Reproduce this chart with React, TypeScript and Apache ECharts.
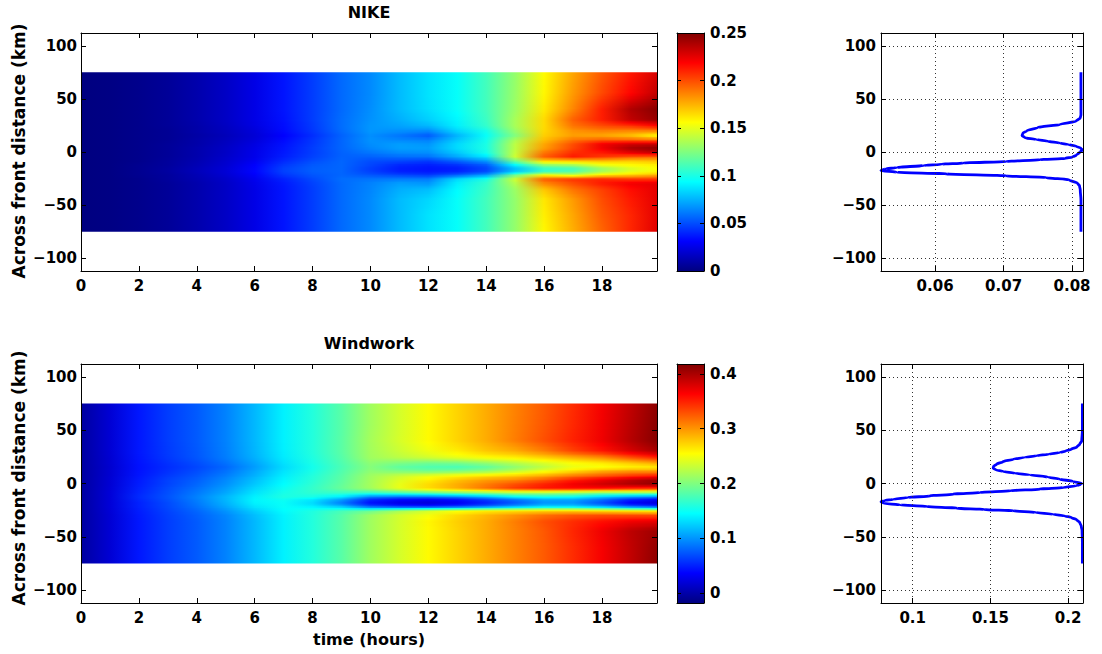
import React, { useEffect, useRef } from "react";
import * as echarts from "echarts";

// ---------- data ----------
const times = [0, 1, 2, 3, 4, 5, 6, 7, 8, 9, 10, 11, 12, 13, 14, 15, 16, 17, 18, 19, 19.9];
const distances = [75, 55, 40, 30, 24, 19, 15, 11, 7, 3, -1, -5, -9, -13, -16, -19, -22, -26, -30, -36, -45, -60, -75];

const nikeRows = [
  [0, 0.001, 0.003, 0.006, 0.011, 0.017, 0.025, 0.036, 0.046, 0.057, 0.065, 0.077, 0.087, 0.095, 0.110, 0.130, 0.157, 0.178, 0.197, 0.213, 0.228],
  [0, 0.001, 0.003, 0.006, 0.011, 0.017, 0.025, 0.036, 0.046, 0.057, 0.065, 0.077, 0.087, 0.095, 0.110, 0.131, 0.158, 0.181, 0.201, 0.218, 0.234],
  [0, 0.001, 0.003, 0.006, 0.011, 0.017, 0.025, 0.036, 0.046, 0.057, 0.066, 0.077, 0.086, 0.095, 0.110, 0.132, 0.161, 0.186, 0.212, 0.238, 0.248],
  [0, 0.001, 0.003, 0.006, 0.011, 0.017, 0.025, 0.035, 0.046, 0.058, 0.067, 0.074, 0.082, 0.092, 0.108, 0.135, 0.165, 0.195, 0.212, 0.234, 0.244],
  [0, 0.001, 0.003, 0.006, 0.010, 0.016, 0.024, 0.034, 0.045, 0.058, 0.068, 0.071, 0.076, 0.090, 0.106, 0.135, 0.165, 0.190, 0.200, 0.206, 0.216],
  [0, 0.001, 0.003, 0.005, 0.010, 0.015, 0.022, 0.033, 0.044, 0.057, 0.068, 0.066, 0.064, 0.083, 0.098, 0.130, 0.166, 0.182, 0.186, 0.184, 0.184],
  [0, 0.001, 0.003, 0.005, 0.009, 0.014, 0.021, 0.031, 0.042, 0.055, 0.066, 0.060, 0.053, 0.075, 0.095, 0.125, 0.168, 0.180, 0.178, 0.171, 0.156],
  [0, 0.001, 0.003, 0.005, 0.010, 0.015, 0.022, 0.033, 0.044, 0.056, 0.067, 0.064, 0.062, 0.080, 0.098, 0.135, 0.172, 0.190, 0.196, 0.194, 0.190],
  [0, 0.001, 0.003, 0.006, 0.010, 0.016, 0.024, 0.035, 0.045, 0.056, 0.066, 0.070, 0.068, 0.085, 0.100, 0.140, 0.178, 0.200, 0.222, 0.231, 0.234],
  [0, 0.001, 0.003, 0.006, 0.011, 0.017, 0.025, 0.036, 0.046, 0.056, 0.064, 0.070, 0.070, 0.085, 0.100, 0.140, 0.180, 0.202, 0.222, 0.240, 0.247],
  [0, 0.001, 0.003, 0.006, 0.011, 0.017, 0.026, 0.037, 0.046, 0.055, 0.060, 0.065, 0.066, 0.080, 0.098, 0.142, 0.190, 0.208, 0.213, 0.225, 0.234],
  [0, 0.001, 0.003, 0.006, 0.011, 0.018, 0.026, 0.038, 0.047, 0.055, 0.055, 0.058, 0.059, 0.072, 0.087, 0.144, 0.196, 0.213, 0.205, 0.197, 0.194],
  [0, 0.001, 0.003, 0.007, 0.012, 0.019, 0.028, 0.041, 0.050, 0.056, 0.050, 0.048, 0.045, 0.055, 0.068, 0.120, 0.165, 0.168, 0.171, 0.168, 0.171],
  [0, 0.001, 0.004, 0.007, 0.013, 0.020, 0.031, 0.045, 0.053, 0.056, 0.048, 0.040, 0.038, 0.042, 0.052, 0.090, 0.125, 0.131, 0.150, 0.156, 0.159],
  [0, 0.001, 0.004, 0.008, 0.014, 0.021, 0.032, 0.047, 0.054, 0.056, 0.046, 0.038, 0.036, 0.038, 0.048, 0.078, 0.106, 0.110, 0.131, 0.147, 0.156],
  [0, 0.001, 0.004, 0.008, 0.014, 0.021, 0.032, 0.047, 0.054, 0.056, 0.047, 0.039, 0.037, 0.040, 0.050, 0.080, 0.108, 0.115, 0.135, 0.150, 0.158],
  [0, 0.001, 0.004, 0.007, 0.013, 0.020, 0.030, 0.044, 0.052, 0.056, 0.052, 0.048, 0.045, 0.055, 0.070, 0.120, 0.156, 0.144, 0.162, 0.168, 0.175],
  [0, 0.001, 0.003, 0.007, 0.012, 0.018, 0.027, 0.039, 0.049, 0.058, 0.060, 0.062, 0.062, 0.085, 0.100, 0.144, 0.196, 0.206, 0.210, 0.206, 0.206],
  [0, 0.001, 0.003, 0.006, 0.011, 0.017, 0.026, 0.037, 0.047, 0.057, 0.063, 0.070, 0.068, 0.090, 0.106, 0.138, 0.185, 0.200, 0.213, 0.222, 0.225],
  [0, 0.001, 0.003, 0.006, 0.011, 0.017, 0.025, 0.036, 0.046, 0.057, 0.064, 0.074, 0.078, 0.093, 0.108, 0.132, 0.170, 0.190, 0.203, 0.216, 0.225],
  [0, 0.001, 0.003, 0.006, 0.011, 0.017, 0.025, 0.036, 0.046, 0.057, 0.065, 0.077, 0.084, 0.095, 0.110, 0.130, 0.162, 0.181, 0.200, 0.213, 0.225],
  [0, 0.001, 0.003, 0.006, 0.011, 0.017, 0.025, 0.036, 0.046, 0.057, 0.065, 0.077, 0.087, 0.095, 0.110, 0.130, 0.160, 0.178, 0.197, 0.210, 0.225],
  [0, 0.001, 0.003, 0.006, 0.011, 0.017, 0.025, 0.036, 0.046, 0.057, 0.065, 0.077, 0.087, 0.095, 0.110, 0.130, 0.158, 0.176, 0.194, 0.210, 0.226],
];

const windworkRows = [
  [-0.004, 0.018, 0.046, 0.062, 0.075, 0.092, 0.115, 0.14, 0.16, 0.183, 0.214, 0.236, 0.256, 0.273, 0.29, 0.308, 0.325, 0.345, 0.367, 0.39, 0.412],
  [-0.004, 0.018, 0.046, 0.062, 0.075, 0.092, 0.115, 0.14, 0.16, 0.183, 0.214, 0.236, 0.256, 0.273, 0.29, 0.309, 0.327, 0.347, 0.369, 0.393, 0.414],
  [-0.004, 0.018, 0.046, 0.062, 0.075, 0.092, 0.115, 0.14, 0.16, 0.184, 0.216, 0.237, 0.256, 0.273, 0.29, 0.31, 0.33, 0.35, 0.37, 0.395, 0.415],
  [-0.004, 0.018, 0.046, 0.061, 0.074, 0.091, 0.114, 0.139, 0.16, 0.184, 0.215, 0.232, 0.248, 0.262, 0.278, 0.29, 0.31, 0.335, 0.355, 0.38, 0.4],
  [-0.004, 0.017, 0.045, 0.06, 0.073, 0.09, 0.112, 0.137, 0.158, 0.182, 0.214, 0.225, 0.235, 0.245, 0.255, 0.262, 0.275, 0.29, 0.305, 0.33, 0.35],
  [-0.004, 0.017, 0.044, 0.057, 0.069, 0.085, 0.107, 0.133, 0.156, 0.179, 0.206, 0.2, 0.195, 0.198, 0.21, 0.225, 0.24, 0.255, 0.265, 0.28, 0.295],
  [-0.004, 0.016, 0.043, 0.055, 0.066, 0.08, 0.103, 0.13, 0.153, 0.177, 0.202, 0.185, 0.178, 0.175, 0.185, 0.205, 0.225, 0.245, 0.25, 0.258, 0.262],
  [-0.004, 0.017, 0.044, 0.057, 0.069, 0.085, 0.108, 0.134, 0.156, 0.18, 0.206, 0.2, 0.195, 0.2, 0.21, 0.228, 0.25, 0.27, 0.29, 0.3, 0.3],
  [-0.004, 0.017, 0.045, 0.06, 0.073, 0.09, 0.112, 0.138, 0.16, 0.183, 0.213, 0.23, 0.244, 0.255, 0.265, 0.275, 0.29, 0.31, 0.325, 0.34, 0.35],
  [-0.004, 0.018, 0.047, 0.064, 0.077, 0.095, 0.118, 0.142, 0.162, 0.185, 0.215, 0.24, 0.26, 0.28, 0.295, 0.305, 0.325, 0.35, 0.37, 0.39, 0.405],
  [-0.004, 0.018, 0.048, 0.065, 0.08, 0.098, 0.122, 0.145, 0.165, 0.188, 0.216, 0.245, 0.27, 0.29, 0.31, 0.33, 0.35, 0.37, 0.385, 0.4, 0.41],
  [-0.004, 0.019, 0.05, 0.068, 0.084, 0.103, 0.128, 0.15, 0.168, 0.19, 0.215, 0.245, 0.27, 0.29, 0.315, 0.34, 0.355, 0.36, 0.36, 0.35, 0.345],
  [-0.004, 0.02, 0.052, 0.07, 0.088, 0.108, 0.134, 0.155, 0.165, 0.17, 0.17, 0.18, 0.19, 0.2, 0.21, 0.22, 0.22, 0.215, 0.205, 0.21, 0.21],
  [-0.004, 0.02, 0.054, 0.072, 0.092, 0.115, 0.14, 0.158, 0.155, 0.135, 0.09, 0.08, 0.08, 0.09, 0.11, 0.14, 0.15, 0.145, 0.12, 0.1, 0.09],
  [-0.004, 0.02, 0.052, 0.07, 0.09, 0.114, 0.142, 0.15, 0.135, 0.1, 0.05, 0.035, 0.03, 0.038, 0.058, 0.082, 0.105, 0.105, 0.08, 0.045, 0.03],
  [-0.004, 0.02, 0.05, 0.068, 0.088, 0.112, 0.14, 0.148, 0.13, 0.09, 0.042, 0.025, 0.02, 0.03, 0.05, 0.075, 0.1, 0.1, 0.07, 0.035, 0.02],
  [-0.004, 0.02, 0.05, 0.067, 0.085, 0.108, 0.135, 0.148, 0.14, 0.12, 0.075, 0.06, 0.055, 0.065, 0.085, 0.11, 0.13, 0.13, 0.11, 0.08, 0.065],
  [-0.004, 0.019, 0.048, 0.065, 0.08, 0.1, 0.125, 0.145, 0.158, 0.175, 0.19, 0.215, 0.235, 0.25, 0.26, 0.265, 0.27, 0.27, 0.265, 0.26, 0.255],
  [-0.004, 0.018, 0.047, 0.063, 0.077, 0.094, 0.118, 0.141, 0.16, 0.182, 0.212, 0.235, 0.25, 0.27, 0.285, 0.3, 0.315, 0.325, 0.33, 0.33, 0.33],
  [-0.004, 0.018, 0.046, 0.062, 0.075, 0.092, 0.115, 0.14, 0.16, 0.183, 0.214, 0.236, 0.258, 0.275, 0.29, 0.31, 0.33, 0.345, 0.358, 0.37, 0.375],
  [-0.004, 0.018, 0.046, 0.062, 0.075, 0.092, 0.115, 0.14, 0.16, 0.183, 0.214, 0.236, 0.256, 0.273, 0.29, 0.308, 0.326, 0.348, 0.37, 0.392, 0.405],
  [-0.004, 0.018, 0.046, 0.062, 0.075, 0.092, 0.115, 0.14, 0.16, 0.183, 0.214, 0.236, 0.256, 0.273, 0.29, 0.308, 0.325, 0.345, 0.367, 0.39, 0.41],
  [-0.004, 0.018, 0.046, 0.062, 0.075, 0.092, 0.115, 0.14, 0.16, 0.183, 0.214, 0.236, 0.256, 0.273, 0.29, 0.308, 0.325, 0.345, 0.367, 0.39, 0.412],
];

const nikeRange = [0, 0.25];
const windworkRange = [-0.018, 0.418];

const nikeProfileDistance = [75, 60, 50, 40, 35, 32, 29, 26, 23, 20, 17.5, 15.5, 13.5, 11.7, 10, 8.5, 7, 5.4, 3.5, 2, 0, -1, -3, -4.7, -6, -7.3, -8.9, -10.4, -11.5, -12.7, -14.6, -16, -16.8, -17.6, -19, -20.6, -22.5, -24, -26.3, -29.4, -32, -35.8, -45, -60, -75];
const nikeProfile = [0.0813, 0.0813, 0.0813, 0.0813, 0.0813, 0.0812, 0.0806, 0.0782, 0.075, 0.0734, 0.0728, 0.0727, 0.0731, 0.0748, 0.0765, 0.0782, 0.0795, 0.0806, 0.0813, 0.0815, 0.0812, 0.081, 0.0806, 0.0801, 0.079, 0.0753, 0.0704, 0.0641, 0.061, 0.0583, 0.0544, 0.0528, 0.0523, 0.0521, 0.0544, 0.0617, 0.0704, 0.0762, 0.0796, 0.0808, 0.0811, 0.0812, 0.0813, 0.0813, 0.0813];

const windworkProfileDistance = [75, 60, 49.4, 40, 36.9, 34, 32.2, 30.5, 29, 27.5, 26, 24.5, 22.8, 20.5, 18.1, 16, 14.4, 12.8, 11.2, 9.6, 8.1, 6, 4.1, 2, 0, -1, -2.2, -3.8, -5.3, -6.8, -8.4, -10, -11.6, -13.2, -14.7, -16, -17.2, -18.6, -20, -21.5, -23.1, -24.4, -25.6, -27.2, -28.8, -30.4, -31.9, -34, -36.6, -40, -44, -55, -75];
const windworkProfile = [0.2092, 0.2092, 0.2092, 0.2088, 0.2075, 0.2055, 0.2021, 0.1985, 0.1946, 0.1875, 0.1797, 0.172, 0.1647, 0.158, 0.154, 0.152, 0.1518, 0.1535, 0.1582, 0.166, 0.1754, 0.187, 0.1946, 0.203, 0.2086, 0.2078, 0.2054, 0.197, 0.1818, 0.163, 0.1433, 0.126, 0.1111, 0.097, 0.0876, 0.082, 0.0796, 0.081, 0.0919, 0.109, 0.1283, 0.146, 0.1647, 0.179, 0.1904, 0.198, 0.2021, 0.2055, 0.2075, 0.2085, 0.209, 0.2092, 0.2092];

const nikeProfileRange = [0.0521, 0.0816];
const windworkProfileRange = [0.0796, 0.2096];
const timeRange = [0, 19.9];
const distanceRange = [-112, 112];

const timeTicks = [0, 2, 4, 6, 8, 10, 12, 14, 16, 18];
const distanceTicks = [-100, -50, 0, 50, 100];
const nikeBarTicks = [0, 0.05, 0.1, 0.15, 0.2, 0.25];
const windworkBarTicks = [0, 0.1, 0.2, 0.3, 0.4];
const nikeProfileTicks = [0.06, 0.07, 0.08];
const windworkProfileTicks = [0.1, 0.15, 0.2];

const titles = ["NIKE", "Windwork"];
const xName = "time (hours)";
const yName = "Across front distance (km)";

// ---------- helpers ----------
const FONT = "'DejaVu Sans', 'Liberation Sans', sans-serif";

function jet(f: number): string {
  const c = (x: number) => Math.max(0, Math.min(1, x));
  const r = c(1.5 - Math.abs(4 * f - 3));
  const g = c(1.5 - Math.abs(4 * f - 2));
  const b = c(1.5 - Math.abs(4 * f - 1));
  return `rgb(${Math.round(r * 255)},${Math.round(g * 255)},${Math.round(b * 255)})`;
}

const fmt = (v: number) => String(Math.round(v * 1000) / 1000).replace("-", "\u2212");

function axis(grid: number, pos: string, min: number, max: number, ticks: number[] | null, o: any = {}) {
  return {
    type: "value",
    gridIndex: grid,
    position: pos,
    min,
    max,
    z: 10,
    axisLine: { show: true, onZero: false, lineStyle: { color: "#000", width: 1 } },
    axisTick: ticks
      ? { show: true, inside: true, length: o.tickLen ?? 5, customValues: ticks, lineStyle: { color: "#000", width: 1 } }
      : { show: false },
    axisLabel:
      o.labels && ticks
        ? {
            show: true,
            customValues: ticks,
            formatter: fmt,
            color: "#000",
            fontFamily: FONT,
            fontWeight: "bold",
            fontSize: 15,
            margin: o.margin ?? 6,
          }
        : { show: false },
    splitLine: o.split
      ? { show: true, lineStyle: { color: "#333", width: 1, type: [1, 3] } }
      : { show: false },
  };
}

// One item per pair of neighbouring distance rows; the band between them is
// shaded in thin sub-strips (like MATLAB "shading interp") for display only.
function heatSeries(g: number, rows: number[][], range: number[]) {
  const last = distances.length - 1;
  const t0 = times[0];
  const t1 = times[times.length - 1];
  const norm = (v: number) => (v - range[0]) / (range[1] - range[0]);
  return {
    type: "custom",
    xAxisIndex: 2 * g,
    yAxisIndex: 2 * g,
    silent: true,
    data: distances.slice(0, last).map((d, i) => [t0, d, i]),
    renderItem: (_p: any, api: any) => {
      const i = api.value(2);
      const a = api.coord([t0, distances[i]]);
      const b = api.coord([t1, distances[i + 1]]);
      const h = b[1] - a[1];
      const k = Math.max(2, Math.ceil(h / 1.5));
      const children: any[] = [];
      for (let j = 0; j < k; j++) {
        const w = (j + 0.5) / k;
        const stops = rows[i].map((v, n) => ({
          offset: (times[n] - t0) / (t1 - t0),
          color: jet(norm((1 - w) * v + w * rows[i + 1][n])),
        }));
        const yA = a[1] + (h * j) / k;
        const padT = i === 0 && j === 0 ? 0 : 0.4;
        const padB = i === last - 1 && j === k - 1 ? 0 : 0.4;
        children.push({
          type: "rect",
          shape: { x: a[0], y: yA - padT, width: b[0] - a[0], height: h / k + padT + padB },
          style: { fill: new echarts.graphic.LinearGradient(0, 0, 1, 0, stops) },
        });
      }
      return { type: "group", children };
    },
  };
}

function barSeries(g: number, range: number[]) {
  return {
    type: "custom",
    xAxisIndex: 2 * g,
    yAxisIndex: 2 * g,
    silent: true,
    data: [[0, range[0], range[1]]],
    renderItem: (_p: any, api: any) => {
      const a = api.coord([0, api.value(2)]);
      const b = api.coord([1, api.value(1)]);
      const stops = [0, 0.125, 0.375, 0.625, 0.875, 1].map((f) => ({ offset: f, color: jet(f) }));
      return {
        type: "rect",
        shape: { x: a[0], y: a[1], width: b[0] - a[0], height: b[1] - a[1] },
        style: { fill: new echarts.graphic.LinearGradient(0, 1, 0, 0, stops) },
      };
    },
  };
}

function lineSeries(g: number, ys: number[], xs: number[]) {
  return {
    type: "line",
    xAxisIndex: 2 * g,
    yAxisIndex: 2 * g,
    data: ys.map((y, i) => [xs[i], y]),
    showSymbol: false,
    symbol: "none",
    smooth: 0.3,
    smoothMonotone: "y",
    clip: false,
    silent: true,
    lineStyle: { color: "#0000ff", width: 2.8 },
    z: 5,
  };
}

function text(s: string, x: number, y: number, size: number, rot = 0) {
  return {
    type: "text",
    x,
    y,
    rotation: rot,
    z: 20,
    style: {
      text: s,
      fill: "#000",
      font: `bold ${size}px ${FONT}`,
      align: "center",
      verticalAlign: "middle",
      textAlign: "center",
      textVerticalAlign: "middle",
    },
  };
}

function buildOption() {
  const grids = [
    { left: 81, top: 33, width: 576, height: 238 },
    { left: 677, top: 33, width: 27, height: 238 },
    { left: 881, top: 33, width: 202, height: 238 },
    { left: 81, top: 364, width: 576, height: 239 },
    { left: 677, top: 364, width: 27, height: 239 },
    { left: 881, top: 364, width: 202, height: 239 },
  ];
  const xAxis: any[] = [];
  const yAxis: any[] = [];
  const panels = [
    { heat: 0, bar: 1, line: 2, barR: nikeRange, barT: nikeBarTicks, pR: nikeProfileRange, pT: nikeProfileTicks },
    { heat: 3, bar: 4, line: 5, barR: windworkRange, barT: windworkBarTicks, pR: windworkProfileRange, pT: windworkProfileTicks },
  ];
  for (const p of panels) {
    xAxis[2 * p.heat] = axis(p.heat, "bottom", timeRange[0], timeRange[1], timeTicks, { labels: true, margin: 7 });
    xAxis[2 * p.heat + 1] = axis(p.heat, "top", timeRange[0], timeRange[1], timeTicks);
    yAxis[2 * p.heat] = axis(p.heat, "left", distanceRange[0], distanceRange[1], distanceTicks, { labels: true, margin: 4 });
    yAxis[2 * p.heat + 1] = axis(p.heat, "right", distanceRange[0], distanceRange[1], distanceTicks);
    xAxis[2 * p.bar] = axis(p.bar, "bottom", 0, 1, null);
    xAxis[2 * p.bar + 1] = axis(p.bar, "top", 0, 1, null);
    yAxis[2 * p.bar] = axis(p.bar, "left", p.barR[0], p.barR[1], p.barT, { tickLen: 4 });
    yAxis[2 * p.bar + 1] = axis(p.bar, "right", p.barR[0], p.barR[1], p.barT, { labels: true, tickLen: 4, margin: 6 });
    xAxis[2 * p.line] = axis(p.line, "bottom", p.pR[0], p.pR[1], p.pT, { labels: true, split: true, margin: 7 });
    xAxis[2 * p.line + 1] = axis(p.line, "top", p.pR[0], p.pR[1], p.pT);
    yAxis[2 * p.line] = axis(p.line, "left", distanceRange[0], distanceRange[1], distanceTicks, { labels: true, split: true, margin: 5 });
    yAxis[2 * p.line + 1] = axis(p.line, "right", distanceRange[0], distanceRange[1], distanceTicks);
  }
  return {
    animation: false,
    backgroundColor: "#fff",
    grid: grids,
    xAxis,
    yAxis,
    series: [
      heatSeries(0, nikeRows, nikeRange),
      barSeries(1, nikeRange),
      lineSeries(2, nikeProfileDistance, nikeProfile),
      heatSeries(3, windworkRows, windworkRange),
      barSeries(4, windworkRange),
      lineSeries(5, windworkProfileDistance, windworkProfile),
    ],
    graphic: [
      text(titles[0], 369, 12.5, 16),
      text(titles[1], 369, 343.5, 16),
      text(xName, 369, 639, 16),
      text(yName, 19, 151, 17, Math.PI / 2),
      text(yName, 19, 478, 17, Math.PI / 2),
    ],
  };
}

export default function App() {
  const ref = useRef<HTMLDivElement>(null);
  useEffect(() => {
    const chart = echarts.init(ref.current!, null, { renderer: "svg" });
    chart.setOption(buildOption() as any);
    return () => chart.dispose();
  }, []);
  return (
    <div
      ref={ref}
      style={{ position: "fixed", left: 0, top: 0, width: 1102, height: 654, background: "#fff" }}
    />
  );
}
